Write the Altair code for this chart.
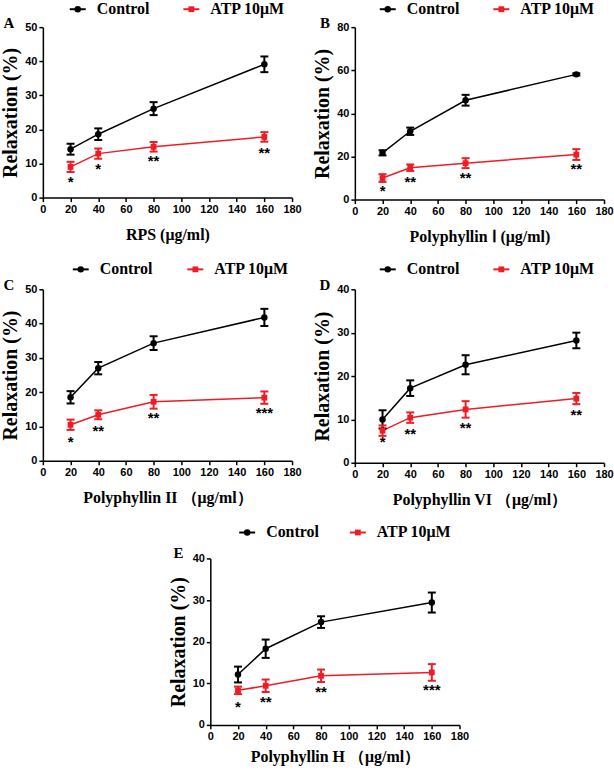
import altair as alt
import pandas as pd

doses = [20, 40, 80, 160]
series = ["Control", "ATP 10μM"]
colors = ["#000000", "#ee1c25"]
x_ticks = [0, 20, 40, 60, 80, 100, 120, 140, 160, 180]

a_ctrl = [14.2, 18.6, 26.1, 39.1]
a_ctrl_err = [1.6, 1.7, 1.9, 2.3]
a_atp = [9.0, 12.9, 14.9, 17.8]
a_atp_err = [1.5, 1.5, 1.4, 1.4]
a_star_y = [5.4, 9.2, 11.5, 13.9]
a_stars = ["*", "*", "**", "**"]

b_ctrl = [21.7, 31.7, 46.1, 58.1]
b_ctrl_err = [1.2, 1.7, 2.5, 0.5]
b_atp = [10.0, 14.8, 16.9, 20.9]
b_atp_err = [1.8, 1.5, 2.3, 2.5]
b_star_y = [5.3, 9.5, 11.6, 15.6]
b_stars = ["*", "**", "**", "**"]

c_ctrl = [18.5, 27.0, 34.3, 41.8]
c_ctrl_err = [1.8, 1.8, 2.0, 2.5]
c_atp = [10.5, 13.4, 17.2, 18.4]
c_atp_err = [1.5, 1.3, 2.0, 1.8]
c_star_y = [6.4, 9.4, 13.3, 14.9]
c_stars = ["*", "**", "**", "***"]

d_ctrl = [10.0, 17.2, 22.6, 28.2]
d_ctrl_err = [2.1, 1.8, 2.2, 1.8]
d_atp = [7.4, 10.4, 12.3, 14.8]
d_atp_err = [1.2, 1.2, 1.9, 1.3]
d_star_y = [5.4, 7.2, 8.8, 11.8]
d_stars = ["*", "**", "**", "**"]

e_ctrl = [12.1, 18.3, 24.7, 29.4]
e_ctrl_err = [1.9, 2.2, 1.4, 2.4]
e_atp = [8.3, 9.4, 11.8, 12.6]
e_atp_err = [0.9, 1.5, 1.5, 2.0]
e_star_y = [5.0, 6.2, 8.7, 9.0]
e_stars = ["*", "**", "**", "***"]

SERIF = "Liberation Serif"
SANS = "Liberation Sans"
marker_shapes = ["circle", "square"]
marker_sizes = [42, 34]


def legend_layers(lx1, lx2, ly):
    one = pd.DataFrame({"k": [0]})
    out = []
    for i, cx in enumerate([lx1, lx2]):
        out.append(alt.Chart(one).mark_rule(strokeWidth=2, color=colors[i]).encode(
            x=alt.value(cx - 8), x2=alt.value(cx + 8), y=alt.value(ly)))
        out.append(alt.Chart(one).mark_point(shape=marker_shapes[i], filled=True, size=marker_sizes[i],
                                             opacity=1, color=colors[i]).encode(
            x=alt.value(cx), y=alt.value(ly)))
        out.append(alt.Chart(one).mark_text(text=series[i], align="left", baseline="middle",
                                            font=SERIF, fontSize=16, fontWeight="bold",
                                            color="black").encode(
            x=alt.value(cx + 19), y=alt.value(ly)))
    return out


def panel(letter, xtitle, ymax, ystep, ctrl, ctrl_err, atp, atp_err,
          star_y, stars, h, lx1, lx2, ly, let_dx, let_dy, xtp=12):
    rows = []
    for s, m, e in [(series[0], ctrl, ctrl_err), (series[1], atp, atp_err)]:
        for d, mv, ev in zip(doses, m, e):
            rows.append({"dose": d, "value": mv, "lo": mv - ev, "hi": mv + ev, "series": s})
    df = pd.DataFrame(rows)
    caps = pd.concat([df.assign(cap=df["lo"]), df.assign(cap=df["hi"])])
    stars_df = pd.DataFrame({"dose": doses, "sy": star_y, "txt": stars})

    xscale = alt.Scale(domain=[0, 180], nice=False)
    yscale = alt.Scale(domain=[0, ymax], nice=False)
    xaxis = alt.Axis(values=x_ticks, title=xtitle, titlePadding=xtp)
    yaxis = alt.Axis(values=list(range(0, ymax + 1, ystep)), title="Relaxation (%)")

    def X():
        return alt.X("dose:Q", scale=xscale, axis=xaxis)

    def Y(f):
        return alt.Y(f + ":Q", scale=yscale, axis=yaxis)

    col = alt.Color("series:N", scale=alt.Scale(domain=series, range=colors), legend=None)
    base = alt.Chart(df)
    line = base.mark_line(strokeWidth=1.5).encode(x=X(), y=Y("value"), color=col)
    rule = base.mark_rule(strokeWidth=2).encode(x=X(), y=Y("lo"), y2="hi:Q", color=col)
    cap = alt.Chart(caps).mark_tick(orient="horizontal", size=8, thickness=2, opacity=1).encode(
        x=X(), y=Y("cap"), color=col)
    pc = base.transform_filter(alt.datum.series == series[0]).mark_point(
        shape="circle", filled=True, size=42, opacity=1).encode(x=X(), y=Y("value"), color=col)
    ps = base.transform_filter(alt.datum.series == series[1]).mark_point(
        shape="square", filled=True, size=34, opacity=1).encode(x=X(), y=Y("value"), color=col)
    star = alt.Chart(stars_df).mark_text(font=SANS, fontWeight="bold", fontSize=15,
                                         baseline="middle", dy=3, color="black").encode(
        x=X(), y=Y("sy"), text="txt:N")
    let = alt.Chart(pd.DataFrame({"t": [letter]})).mark_text(
        font=SERIF, fontWeight="bold", fontSize=15, color="black", align="center",
        baseline="middle").encode(x=alt.value(let_dx), y=alt.value(let_dy), text="t:N")
    layers = [line, rule, cap, pc, ps, star, let] + legend_layers(lx1, lx2, ly)
    return alt.layer(*layers).properties(width=250, height=h)


A = panel("A", "RPS (μg/ml)", 50, 10, a_ctrl, a_ctrl_err, a_atp, a_atp_err,
          a_star_y, a_stars, 171, 35, 149, -18, -34, -4)
B = panel("B", "Polyphyllin Ⅰ (μg/ml)", 80, 20, b_ctrl, b_ctrl_err, b_atp, b_atp_err,
          b_star_y, b_stars, 173, 33, 147, -18, -30, -4)
C = panel("C", "Polyphyllin II （μg/ml）", 50, 10, c_ctrl, c_ctrl_err, c_atp, c_atp_err,
          c_star_y, c_stars, 172, 38, 153, -20, -34, -4)
D = panel("D", "Polyphyllin VI （μg/ml）", 40, 10, d_ctrl, d_ctrl_err, d_atp, d_atp_err,
          d_star_y, d_stars, 174, 33, 147, -20, -30, -4)
E = panel("E", "Polyphyllin H （μg/ml）", 40, 10, e_ctrl, e_ctrl_err, e_atp, e_atp_err,
          e_star_y, e_stars, 167, 37, 148, -26, -32, -5, xtp=7)

spacer = alt.Chart(pd.DataFrame({"a": [0]})).mark_point(opacity=0).encode(
    x=alt.value(0), y=alt.value(0)).properties(width=111, height=10)

row1 = alt.hconcat(A, B, spacing=10)
row2 = alt.hconcat(C, D, spacing=10)
row3 = alt.hconcat(spacer, E, spacing=14)

chart = alt.vconcat(row1, row2, row3, spacing=17).properties(
    padding={"left": 0, "top": 0, "right": 0, "bottom": 0}, background="white"
).configure_view(stroke=None).configure_axis(
    grid=False, domainColor="black", domainWidth=1.5, tickColor="black", tickWidth=1.5,
    tickSize=4, labelFont=SANS, labelFontSize=11, labelFontWeight="bold", labelColor="black",
    labelPadding=2, titleFont=SERIF, titleFontWeight="bold", titleColor="black"
).configure_axisX(titleFontSize=16, labelFlush=False
).configure_axisY(titleFontSize=20, titlePadding=4)

chart.save("out.html", embed_options={"renderer": "svg", "actions": False})
